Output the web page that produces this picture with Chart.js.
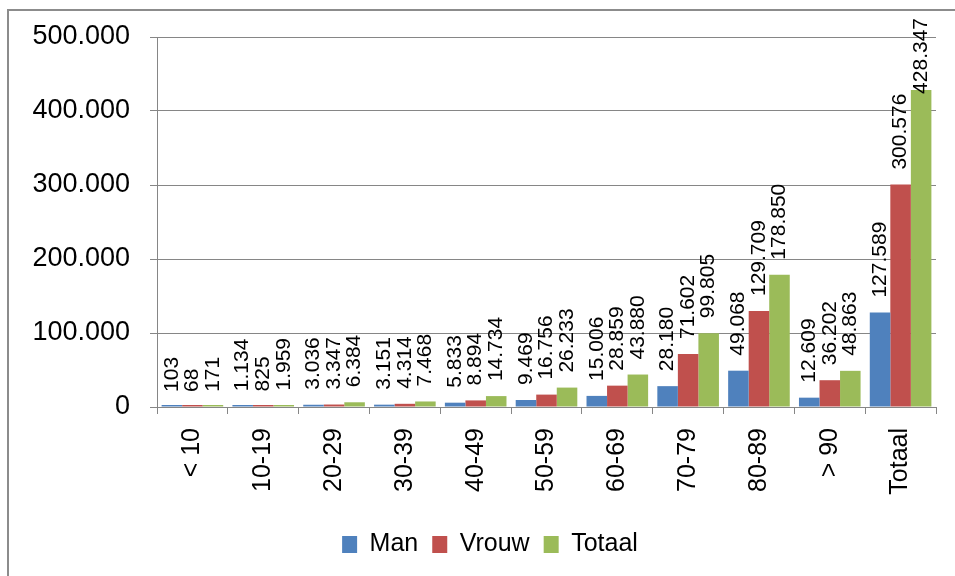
<!DOCTYPE html>
<html>
<head>
<meta charset="utf-8">
<script src="https://cdn.jsdelivr.net/npm/chart.js@4.4.1/dist/chart.umd.min.js"></script>
<style>
  html, body { margin: 0; padding: 0; background: #fff; overflow: hidden; }
  #wrap { position: relative; width: 955px; height: 576px; }
  #frame {
    position: absolute; left: 7px; top: 9px; width: 1000px; height: 600px;
    border: 2px solid #8c8c8c; box-sizing: border-box;
  }
  canvas { position: absolute; left: 0; top: 0; }
</style>
</head>
<body>
<div id="wrap">
  <div id="frame"></div>
  <canvas id="chart" width="955" height="576"></canvas>
</div>
<script>
const ageGroups = ["< 10", "10-19", "20-29", "30-39", "40-49", "50-59", "60-69", "70-79", "80-89", "> 90", "Totaal"];
const man = [103, 1134, 3036, 3151, 5833, 9469, 15006, 28180, 49068, 12609, 127589];
const vrouw = [68, 825, 3347, 4314, 8894, 16756, 28859, 71602, 129709, 36202, 300576];
const totaal = [171, 1959, 6384, 7468, 14734, 26233, 43880, 99805, 178850, 48863, 428347];
const yTicks = [0, 100000, 200000, 300000, 400000, 500000];

const FONT = "'Liberation Sans', Arial, sans-serif";
const GRID = "#868686";

function fmt(v) {
  return String(v).replace(/\B(?=(\d{3})+(?!\d))/g, ".");
}

// vertical value labels above each bar
const barLabels = {
  id: "barLabels",
  afterLayout(chart) {
    // excel centres the legend a bit further right
    chart.legend.left += 22;
    chart.legend.right += 22;
  },
  afterDatasetsDraw(chart) {
    const ctx = chart.ctx;
    const yScale = chart.scales.y;
    ctx.save();
    ctx.font = "21px " + FONT;
    ctx.fillStyle = "#000";
    ctx.textAlign = "left";
    ctx.textBaseline = "middle";
    chart.data.datasets.forEach((ds, i) => {
      chart.getDatasetMeta(i).data.forEach((bar, j) => {
        const text = fmt(ds.data[j]);
        const w = ctx.measureText(text).width;
        let y = yScale.getPixelForValue(ds.data[j]) - 15;
        y = Math.max(y, 18 + w);
        ctx.save();
        ctx.translate(bar.x, y);
        ctx.rotate(-Math.PI / 2);
        ctx.fillText(text, 0, 0);
        ctx.restore();
      });
    });
    ctx.restore();
  },
};

new Chart(document.getElementById("chart"), {
  type: "bar",
  data: {
    labels: ageGroups,
    datasets: [
      { label: "Man", data: man, backgroundColor: "#4f81bd" },
      { label: "Vrouw", data: vrouw, backgroundColor: "#c0504d" },
      { label: "Totaal", data: totaal, backgroundColor: "#9bbb59" },
    ],
  },
  options: {
    responsive: false,
    animation: false,
    devicePixelRatio: 1,
    layout: {
      padding: { left: 0, right: 19, top: 37, bottom: 9 },
    },
    datasets: {
      bar: {
        categoryPercentage: 0.87,
        barPercentage: 1,
        minBarLength: 2,
      },
    },
    plugins: {
      tooltip: { enabled: false },
      legend: {
        position: "bottom",
        labels: {
          color: "#000",
          font: { family: FONT, size: 25 },
          boxWidth: 15,
          boxHeight: 17,
          padding: 14,
        },
      },
    },
    scales: {
      x: {
        afterFit(scale) {
          scale.height = 111;
        },
        grid: { drawOnChartArea: false, tickLength: 7, color: GRID },
        border: { color: GRID, width: 1 },
        ticks: {
          color: "#000",
          font: { family: FONT, size: 25 },
          minRotation: 90,
          maxRotation: 90,
          padding: 14,
          autoSkip: false,
        },
      },
      y: {
        min: 0,
        max: 500000,
        afterFit(scale) {
          scale.width = 157;
        },
        afterBuildTicks(scale) {
          scale.ticks = yTicks.map((v) => ({ value: v }));
        },
        grid: { color: GRID, tickLength: 7 },
        border: { color: GRID, width: 1 },
        ticks: {
          color: "#000",
          font: { family: FONT, size: 27 },
          padding: 20,
          callback: (v) => fmt(v),
        },
      },
    },
  },
  plugins: [barLabels],
});
</script>
</body>
</html>
